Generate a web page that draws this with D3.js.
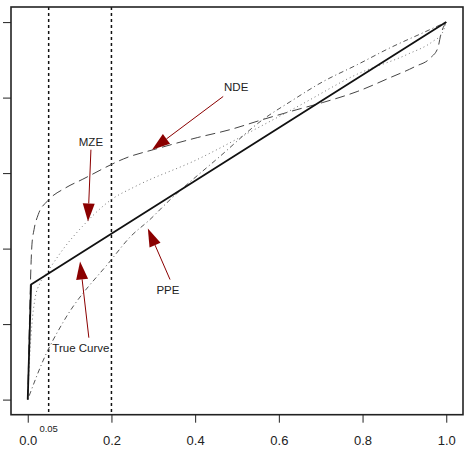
<!DOCTYPE html>
<html><head><meta charset="utf-8">
<script src="https://cdn.jsdelivr.net/npm/d3@7"></script>
<style>body{margin:0;background:#fff}svg{display:block}</style>
</head><body>
<svg id="c" width="468" height="453"></svg>
<script>
const FONT = "Liberation Sans, Arial, sans-serif";
const xTicks = [0, 0.2, 0.4, 0.6, 0.8, 1.0];
const xTickLabels = ["0.0", "0.2", "0.4", "0.6", "0.8", "1.0"];
const yTicks = [0, 0.2, 0.4, 0.6, 0.8, 1.0];
const vLines = [0.05, 0.2];
const vLineLabel = "0.05";

const trueX = [0, 0.008, 1];
const trueY = [0, 0.305, 1];

const ndeX = [0, 0.004, 0.007, 0.01, 0.015, 0.025, 0.048, 0.089, 0.13, 0.244, 0.30, 0.405, 0.483, 0.562, 0.643, 0.705, 0.787, 0.866, 0.925, 0.963, 0.98, 0.987, 1];
const ndeY = [0, 0.2, 0.33, 0.41, 0.45, 0.49, 0.527, 0.56, 0.583, 0.644, 0.662, 0.694, 0.715, 0.742, 0.768, 0.787, 0.816, 0.853, 0.882, 0.906, 0.932, 0.967, 1];

const mzeX = [0, 0.005, 0.01, 0.017, 0.03, 0.048, 0.089, 0.13, 0.2, 0.256, 0.405, 0.55, 0.651, 0.787, 0.906, 0.968, 0.99, 1];
const mzeY = [0, 0.12, 0.2, 0.265, 0.31, 0.34, 0.405, 0.458, 0.53, 0.564, 0.636, 0.72, 0.78, 0.862, 0.914, 0.949, 0.97, 1];

const ppeX = [0, 0.041, 0.084, 0.2, 0.244, 0.292, 0.333, 0.459, 0.562, 0.627, 0.705, 0.787, 0.866, 0.945, 1];
const ppeY = [0, 0.114, 0.204, 0.371, 0.43, 0.477, 0.522, 0.644, 0.742, 0.789, 0.842, 0.887, 0.932, 0.972, 1];

const annLabels = ["NDE", "MZE", "True Curve", "PPE"];
const annTextX = [0.498, 0.151, 0.127, 0.335];
const annTextY = [0.818, 0.672, 0.127, 0.281];
const annTailX = [0.467, 0.151, 0.146, 0.340];
const annTailY = [0.803, 0.662, 0.164, 0.318];
const annTipX = [0.297, 0.144, 0.125, 0.287];
const annTipY = [0.662, 0.472, 0.366, 0.453];

const svg = d3.select("#c");
const x = d3.scaleLinear().domain([-0.04, 1.04]).range([11, 463]);
const y = d3.scaleLinear().domain([-0.04, 1.04]).range([414.7, 7]);

const gx = svg.append("g").attr("transform", "translate(0,414.7)")
  .call(d3.axisBottom(x).tickValues(xTicks).tickFormat((d,i)=>xTickLabels[i]).tickSize(8).tickPadding(13));
gx.attr("font-family", FONT).attr("font-size", 13);
gx.select(".domain").remove();
gx.selectAll("line").attr("stroke", "#222");
gx.selectAll("text").attr("font-family", FONT).attr("font-size", 13).attr("fill", "#222");

const gy = svg.append("g").attr("transform", "translate(11,0)")
  .call(d3.axisLeft(y).tickValues(yTicks).tickFormat("").tickSize(8));
gy.select(".domain").remove();
gy.selectAll("line").attr("stroke", "#222");

// vertical reference lines
svg.selectAll(".vl").data(vLines).enter().append("line")
  .attr("x1", d=>x(d)).attr("x2", d=>x(d)).attr("y1", y(1.04)).attr("y2", y(-0.04))
  .attr("stroke", "#111").attr("stroke-width", 1.5).attr("stroke-dasharray", "3,3");
svg.append("text").attr("x", x(vLines[0])).attr("y", 432).attr("text-anchor", "middle")
  .attr("font-family", FONT).attr("font-size", 9.5).attr("fill", "#222").text(vLineLabel);

const line = d3.line().x(d=>x(d[0])).y(d=>y(d[1])).curve(d3.curveMonotoneX);
const lineL = d3.line().x(d=>x(d[0])).y(d=>y(d[1]));
function zip(a,b){return a.map((v,i)=>[v,b[i]]);}

svg.append("path").attr("d", line(zip(ndeX, ndeY))).attr("fill","none").attr("stroke","#444").attr("stroke-width",1).attr("stroke-dasharray","10,5");
svg.append("path").attr("d", line(zip(mzeX, mzeY))).attr("fill","none").attr("stroke","#777").attr("stroke-width",1).attr("stroke-dasharray","1,3");
svg.append("path").attr("d", line(zip(ppeX, ppeY))).attr("fill","none").attr("stroke","#555").attr("stroke-width",1).attr("stroke-dasharray","1,3,5,3");
svg.append("path").attr("d", lineL(zip(trueX, trueY))).attr("fill","none").attr("stroke","#111").attr("stroke-width",1.8);

// annotations
annLabels.forEach((lab,i)=>{
  const tx = x(annTailX[i]), ty = y(annTailY[i]);
  const px = x(annTipX[i]), py = y(annTipY[i]);
  const dx = px-tx, dy = py-ty, L = Math.hypot(dx,dy);
  const ux = dx/L, uy = dy/L;
  const hl = 18, hw = 6;
  const bx = px - ux*hl, by = py - uy*hl;
  svg.append("line").attr("x1",tx).attr("y1",ty).attr("x2",bx).attr("y2",by).attr("stroke","#8b0000").attr("stroke-width",1);
  svg.append("path").attr("d", `M${px},${py}L${bx - uy*hw},${by + ux*hw}L${bx + uy*hw},${by - ux*hw}Z`).attr("fill","#8b0000");
  svg.append("text").attr("x", x(annTextX[i])).attr("y", y(annTextY[i])).attr("text-anchor","middle")
    .attr("font-family", FONT).attr("font-size", 11.5).attr("fill","#222").text(lab);
});

// box
svg.append("rect").attr("x", 11).attr("y", 7).attr("width", 452).attr("height", 407.7)
  .attr("fill","none").attr("stroke","#222").attr("stroke-width",1.6);
</script>
</body></html>
